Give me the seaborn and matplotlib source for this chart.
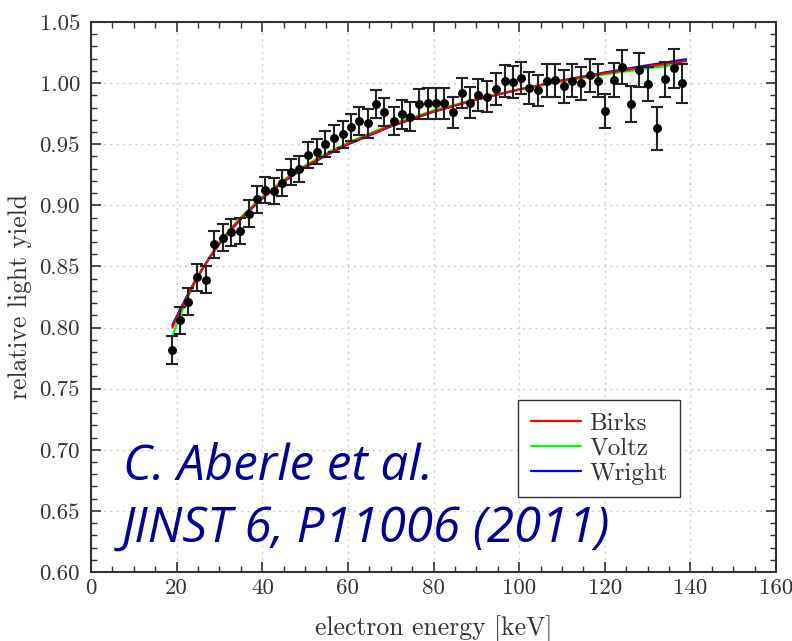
import numpy as np
import pandas as pd
import matplotlib
matplotlib.use("Agg")
import matplotlib.pyplot as plt
from matplotlib.ticker import MultipleLocator
import seaborn as sns

# ---- data ----
energy = [18.9, 20.8, 22.7, 24.7, 26.8, 28.8, 30.8, 32.7, 34.7, 36.8,
          38.7, 40.7, 42.8, 44.7, 46.7, 48.6, 50.7, 52.7, 54.7, 56.7,
          58.8, 60.7, 62.7, 64.6, 66.6, 68.5, 70.7, 72.6, 74.6, 76.5,
          78.7, 80.6, 82.5, 84.6, 86.6, 88.5, 90.5, 92.4, 94.5, 96.6,
          98.5, 100.5, 102.4, 104.4, 106.5, 108.4, 110.5, 112.4, 114.5, 116.5,
          118.4, 120.1, 122.2, 124.1, 126.2, 128.1, 130.2, 132.2, 134.1, 136.1,
          138.0]
light_yield = [0.782, 0.806, 0.821, 0.841, 0.839, 0.868, 0.8735, 0.878, 0.879, 0.893,
               0.905, 0.9125, 0.912, 0.9185, 0.9275, 0.930, 0.941, 0.944, 0.950, 0.955,
               0.958, 0.964, 0.969, 0.967, 0.983, 0.9766, 0.969, 0.9745, 0.9725, 0.983,
               0.9835, 0.9835, 0.9835, 0.976, 0.992, 0.984, 0.990, 0.989, 0.995, 1.002,
               1.001, 1.004, 0.996, 0.994, 1.002, 1.0025, 0.9976, 1.002, 1.000, 1.0066,
               1.002, 0.977, 1.0025, 1.013, 0.983, 1.011, 0.999, 0.963, 1.003, 1.012,
               1.000]
yield_err = [0.0115, 0.011, 0.011, 0.011, 0.011, 0.011, 0.011, 0.011, 0.011, 0.011,
             0.011, 0.0105, 0.0105, 0.0105, 0.0105, 0.0105, 0.0105, 0.0105, 0.0105, 0.011,
             0.011, 0.011, 0.0115, 0.0115, 0.0115, 0.0115, 0.0115, 0.012, 0.012, 0.0125,
             0.0125, 0.0125, 0.0125, 0.0125, 0.0125, 0.0125, 0.013, 0.013, 0.013, 0.013,
             0.013, 0.013, 0.013, 0.013, 0.0135, 0.0135, 0.0135, 0.0135, 0.0135, 0.0135,
             0.0135, 0.014, 0.014, 0.014, 0.0145, 0.014, 0.014, 0.0175, 0.014, 0.016,
             0.016]

curve_energy = [19, 20, 22, 24, 26, 28, 30, 33, 36, 40, 45, 50, 55, 60, 70, 80,
                90, 100, 110, 120, 130, 139]
birks = [0.800, 0.8075, 0.822, 0.8357, 0.8479, 0.8588, 0.8686, 0.8816, 0.8929, 0.9060,
         0.9198, 0.9315, 0.9416, 0.9503, 0.9650, 0.9768, 0.9865, 0.9948, 1.0019, 1.0081,
         1.0136, 1.0180]
voltz = [0.793, 0.8025, 0.820, 0.8347, 0.8479, 0.8593, 0.8696, 0.8826, 0.8939, 0.9070,
         0.9208, 0.9325, 0.9426, 0.9513, 0.9660, 0.9776, 0.9870, 0.9948, 1.0014, 1.0071,
         1.0121, 1.0160]
wright = [0.802, 0.809, 0.823, 0.8362, 0.8479, 0.8588, 0.8686, 0.8811, 0.8924, 0.9055,
          0.9193, 0.9310, 0.9411, 0.9498, 0.9645, 0.9765, 0.9865, 0.9948, 1.0022, 1.0087,
          1.0146, 1.0195]
model_names = ["Birks", "Voltz", "Wright"]
model_colors = {"Birks": "#ff0000", "Voltz": "#00ff00", "Wright": "#0000ff"}

x_ticks = [0, 20, 40, 60, 80, 100, 120, 140, 160]
y_ticks = [0.60, 0.65, 0.70, 0.75, 0.80, 0.85, 0.90, 0.95, 1.00, 1.05]

# ---- style ----
sns.set_theme(style="ticks")
plt.rcParams["font.family"] = ["cmr10", "DejaVu Serif"]
plt.rcParams["axes.formatter.use_mathtext"] = True
plt.rcParams["mathtext.fontset"] = "cm"

fig = plt.figure(figsize=(7.92, 6.41), dpi=100)
ax = fig.add_axes([91 / 792, 1 - 572 / 641, 685 / 792, 550 / 641])

curves = pd.DataFrame({
    "energy": curve_energy * 3,
    "yield": birks + voltz + wright,
    "model": ["Birks"] * len(birks) + ["Voltz"] * len(voltz) + ["Wright"] * len(wright),
})

# draw Wright first, then Voltz, Birks on top
for name in ["Wright", "Voltz", "Birks"]:
    sub = curves[curves["model"] == name]
    sns.lineplot(data=sub, x="energy", y="yield", color=model_colors[name],
                 lw=1.6, ax=ax, label=name, zorder=3, legend=False)

ax.errorbar(energy, light_yield, yerr=yield_err, fmt="o", color="black",
            ms=5.4, ecolor="#222222", elinewidth=1.5, capsize=4.6, capthick=1.5,
            zorder=4)

ax.set_xlim(0, 160)
ax.set_ylim(0.60, 1.05)
ax.set_xticks(x_ticks)
ax.set_yticks(y_ticks)
ax.set_xticklabels([str(t) for t in x_ticks])
ax.set_yticklabels([f"{t:.2f}" for t in y_ticks])
ax.xaxis.set_minor_locator(MultipleLocator(5))
ax.yaxis.set_minor_locator(MultipleLocator(0.01))
ax.tick_params(which="both", direction="in", top=True, right=True,
               color="#333333", labelsize=16.5, labelcolor="#333333")
ax.tick_params(which="major", length=7, width=1.2)
ax.tick_params(axis="x", which="major", pad=5)
ax.tick_params(axis="y", which="major", pad=8)
ax.tick_params(which="minor", length=4, width=1.0)
for s in ax.spines.values():
    s.set_color("#333333")
    s.set_linewidth(1.5)
ax.grid(True, which="major", ls=(0, (1.5, 3)), color="#cccccc", lw=1.0)
ax.set_axisbelow(True)

ax.set_xlabel("electron energy [keV]", fontsize=18.5, color="#333333", labelpad=12)
ax.set_ylabel("relative light yield", fontsize=18.5, color="#333333", labelpad=5)

handles, labels = ax.get_legend_handles_labels()
order = [labels.index(n) for n in model_names]
leg = ax.legend([handles[i] for i in order], [labels[i] for i in order],
                loc="upper left", bbox_to_anchor=((518 - 91) / 685, (572 - 400) / 550),
                fontsize=18, frameon=True, fancybox=False, framealpha=1,
                edgecolor="#333333", handlelength=2.0, handletextpad=0.35,
                borderpad=0.5, labelspacing=0.1, borderaxespad=0)
leg.get_frame().set_linewidth(1.0)
for t in leg.get_texts():
    t.set_color("#333333")

fig.text(123 / 792, 1 - 480 / 641, "C. Aberle et al.", fontsize=35.5,
         family=["Open Sans", "DejaVu Sans"], style="italic", color="#000096",
         va="baseline", ha="left")
fig.text(122 / 792, 1 - 542 / 641, "JINST 6, P11006 (2011)", fontsize=35.5,
         family=["Open Sans", "DejaVu Sans"], style="italic", color="#000096",
         va="baseline", ha="left")

fig.savefig("out.png", dpi=100)
